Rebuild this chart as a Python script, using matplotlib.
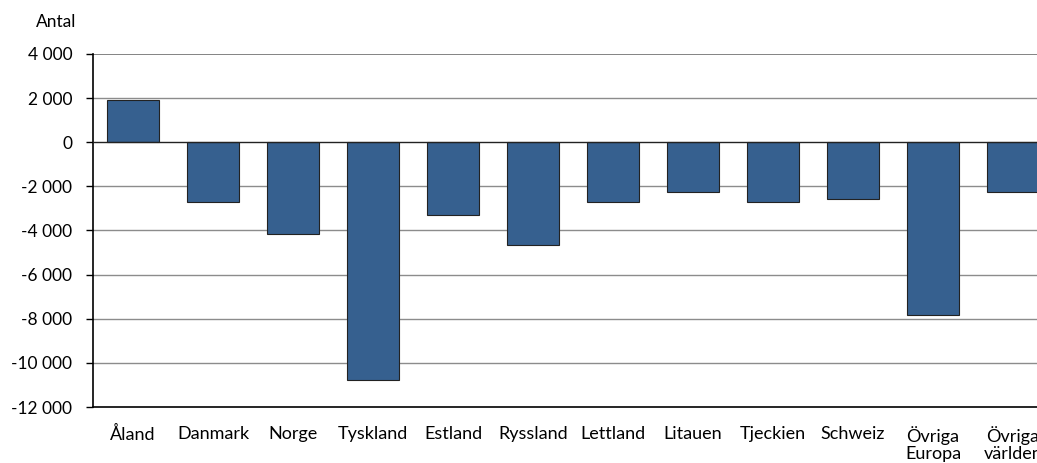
import matplotlib
matplotlib.use("Agg")
import matplotlib.pyplot as plt
from matplotlib.ticker import FuncFormatter

categories = ["Åland", "Danmark", "Norge", "Tyskland", "Estland", "Ryssland",
              "Lettland", "Litauen", "Tjeckien", "Schweiz", "Övriga\nEuropa", "Övriga\nvärlden"]
values = [1900, -2720, -4170, -10790, -3310, -4670, -2720, -2270, -2720, -2580, -7840, -2270]
yticks = [4000, 2000, 0, -2000, -4000, -6000, -8000, -10000, -12000]

plt.rcParams['font.family'] = ['Lato', 'DejaVu Sans']
fig = plt.figure(figsize=(10.37, 4.63), dpi=100)
ax = fig.add_axes([93/1037, 1-407/463, 960/1037, (407-54)/463])

x = list(range(len(categories)))
ax.bar(x, values, width=0.66, color="#36608f", edgecolor="#222222", linewidth=0.8, zorder=3)

ax.set_xlim(-0.5, len(categories)-0.5)
ax.set_ylim(-12000, 4000)
ax.set_yticks(yticks)
ax.yaxis.set_major_formatter(FuncFormatter(lambda v, p: f"{int(v):,}".replace(",", " ")))
ax.set_xticks(x)
ax.set_xticklabels(categories, fontsize=13, linespacing=1.05, va="top")
ax.tick_params(axis="x", length=0, pad=14)
ax.tick_params(axis="y", length=5, width=1, direction="out", labelsize=12.5, pad=10)

for t in yticks:
    if t in (-12000,):
        continue
    c = "#8c8c8c"
    lw = 1.0
    if t == 4000:
        c = "#6e6e6e"; lw = 1.2
    if t == 0:
        c = "#222222"; lw = 1.0
    ax.axhline(t, color=c, linewidth=lw, zorder=1 if t != 0 else 4)

for s in ["top", "right"]:
    ax.spines[s].set_visible(False)
ax.spines["left"].set_linewidth(1.2)
ax.spines["bottom"].set_linewidth(1.2)

fig.text(56/1037, 1-22/463, "Antal", fontsize=12.5, ha="center", va="center")

fig.savefig("out.png", dpi=100)
